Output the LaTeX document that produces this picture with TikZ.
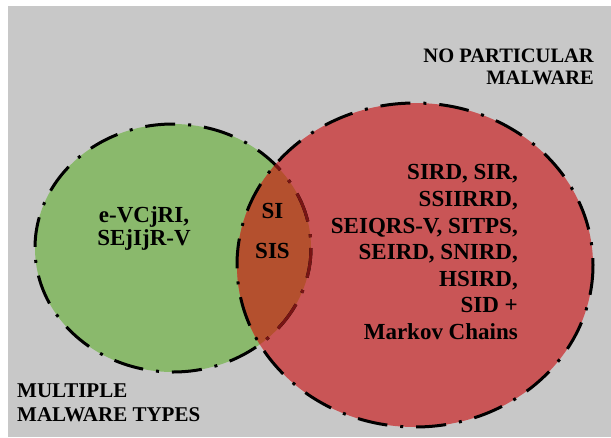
\documentclass[tikz,border=0pt]{standalone}
\usepackage{fontspec}
\setmainfont{LiberationSerif}[Extension=.ttf,UprightFont=*-Regular,BoldFont=*-Bold]
\begin{document}
\begin{tikzpicture}[x=1pt,y=-1pt,
  canvas/.style={fill=white},
  panel/.style={fill=bggray},
  setline/.style={line width=3pt,dash pattern=on 30pt off 13pt on 3pt off 13pt},
  lbl/.style={inner sep=0pt}]
\definecolor{bggray}{RGB}{200,200,200}
\definecolor{setgreen}{RGB}{138,185,108}
\definecolor{setred}{RGB}{201,85,86}
\definecolor{lensbrown}{RGB}{180,80,46}
\definecolor{edgered}{RGB}{120,20,20}
\useasboundingbox (0,0) rectangle (611,437);
\fill[canvas] (0,0) rectangle (611,437);
\fill[panel] (8,6) rectangle (611,437);
% the two sets
\def\greenset{(173,248) ellipse [x radius=138, y radius=124]}
\def\redset{(415,265) ellipse [x radius=178, y radius=162]}
\fill[setgreen] \greenset;
\fill[setred] \redset;
\begin{scope}
  \clip \greenset;
  \fill[lensbrown] \redset;
\end{scope}
% outlines
\draw[setline] \greenset;
\begin{scope}
  \clip \redset;
  \draw[setline,edgered] \greenset;
\end{scope}
\draw[setline] \redset;
% labels
\node[lbl,anchor=north east,align=right,font=\fontsize{20.5}{22}\selectfont\bfseries]
  (nopart) at (594,49) {NO PARTICULAR\\MALWARE};
\node[lbl,anchor=north west,align=left,font=\fontsize{21}{24}\selectfont\bfseries]
  (multi) at (17,384) {MULTIPLE\\MALWARE TYPES};
\node[lbl,anchor=north,align=center,font=\fontsize{23}{23}\selectfont\bfseries]
  (greentxt) at (144,206) {e-VCjRI,\\SEjIjR-V};
\node[lbl,anchor=north,align=center,font=\fontsize{23}{40}\selectfont\bfseries]
  (lenstxt) at (272.5,203) {SI\\SIS};
\node[lbl,anchor=north east,align=right,font=\fontsize{23}{26.6}\selectfont\bfseries]
  (redtxt) at (518,164.5) {SIRD, SIR,\\SSIIRRD,\\SEIQRS-V, SITPS,\\SEIRD, SNIRD,\\HSIRD,\\SID +\\Markov Chains};
\end{tikzpicture}
\end{document}
